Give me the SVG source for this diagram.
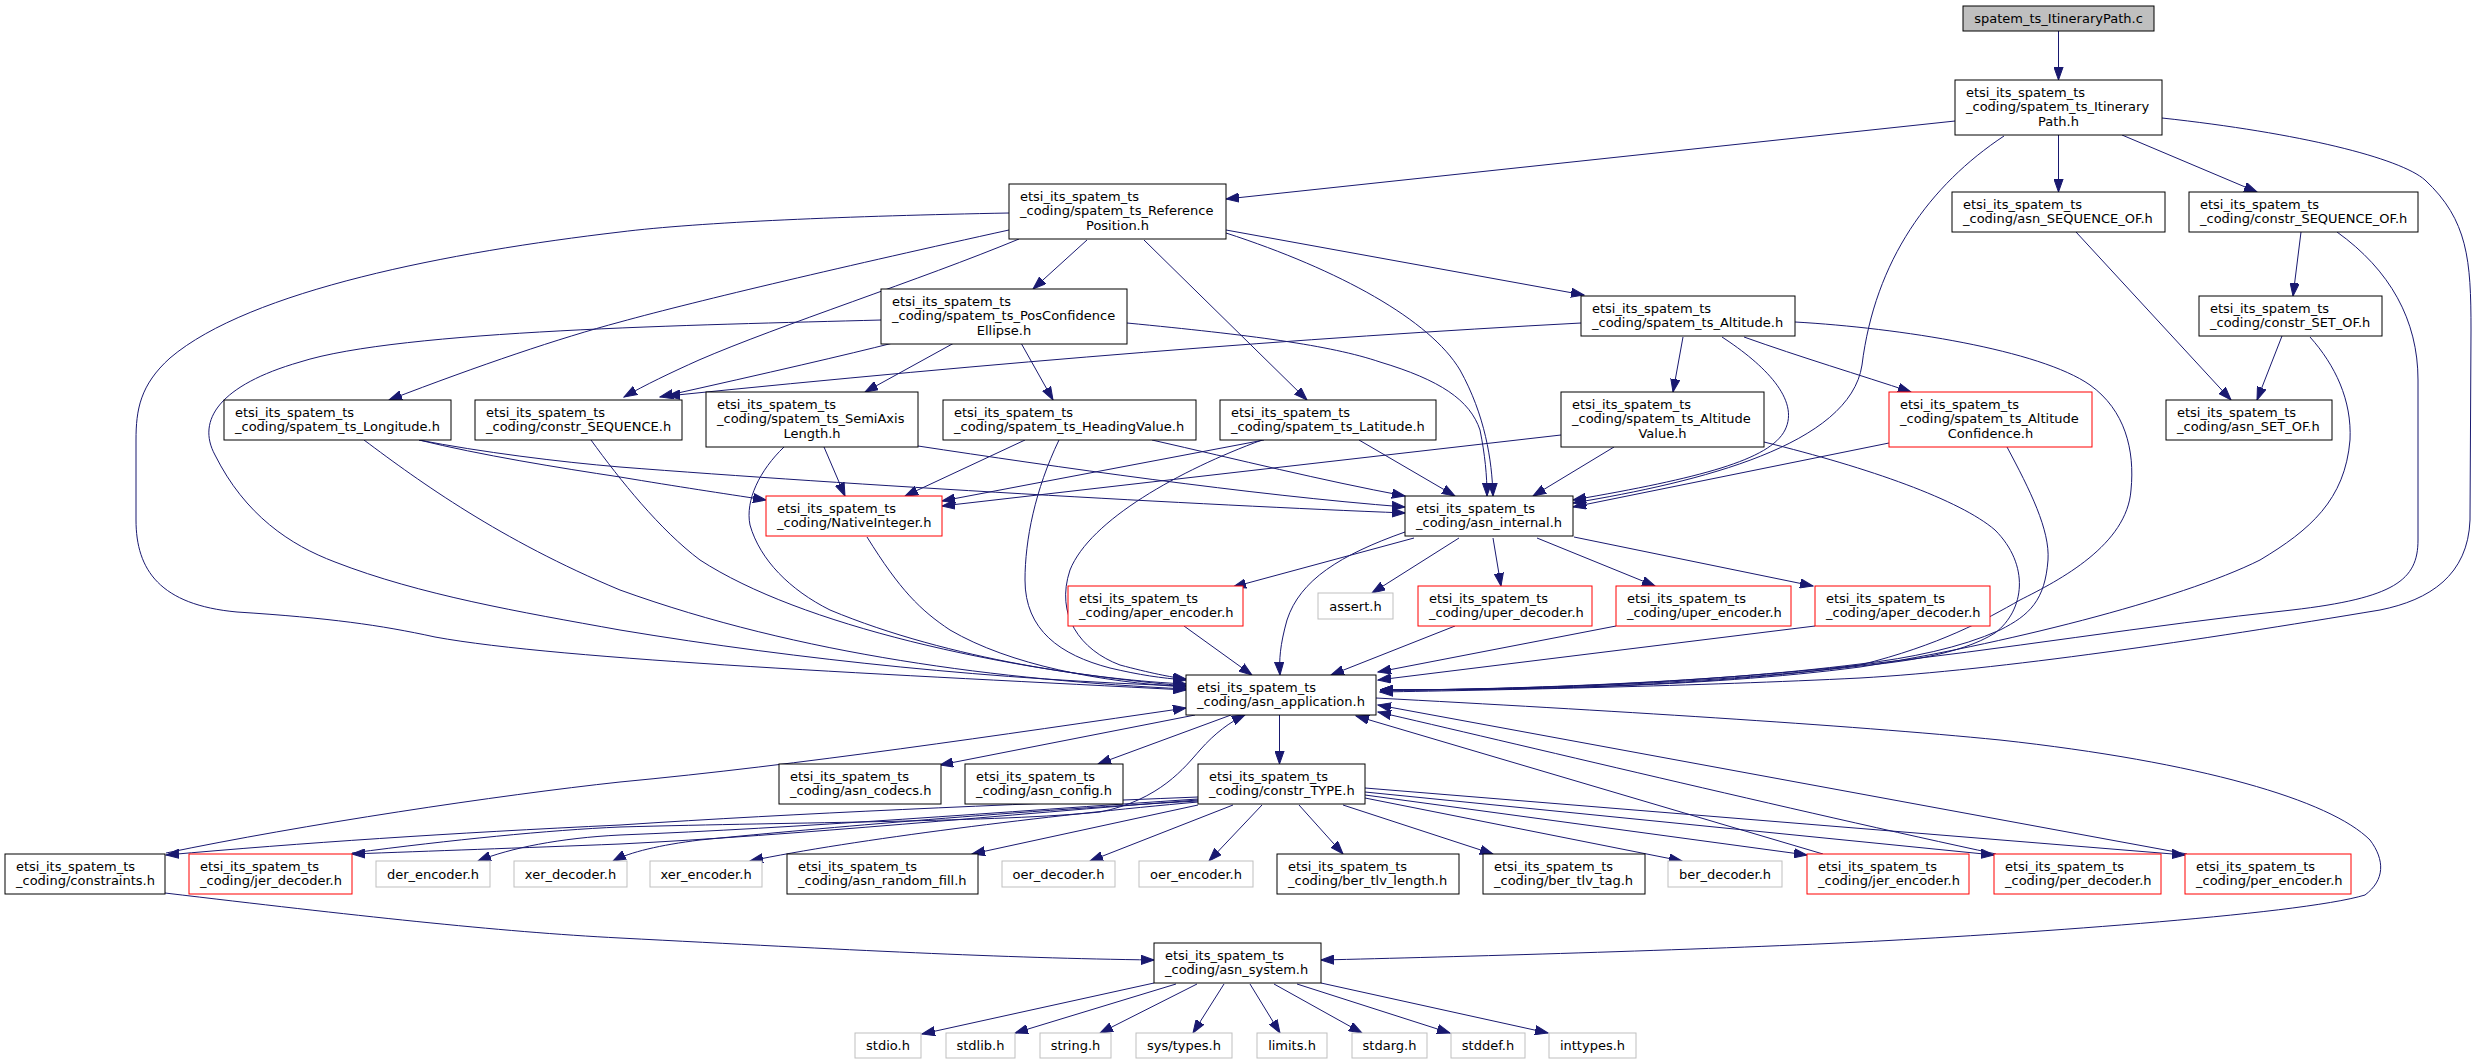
<svg xmlns="http://www.w3.org/2000/svg" width="2476" height="1064" viewBox="0 0 2476 1064">
<style>
rect{fill:#fff;stroke:#000;stroke-width:1}
.root rect{fill:#bfbfbf}
.red rect{stroke:#ff0000}
.gray rect{stroke:#bfbfbf}
text{font-family:"DejaVu Sans","Liberation Sans",sans-serif;font-size:13px;fill:#000}
.c{text-anchor:middle}
#edges path{fill:none;stroke:#191970;stroke-width:1;marker-end:url(#a)}
</style>
<defs>
<marker id="a" markerUnits="userSpaceOnUse" markerWidth="14" markerHeight="10" viewBox="0 0 14 10" refX="13" refY="5" orient="auto"><path d="M0,0.4 L13,5 L0,9.6 Z" fill="#191970" stroke="#191970" stroke-width="1"/></marker>
</defs>
<rect x="0" y="0" width="2476" height="1064" style="fill:#fff;stroke:none"/>
<g id="edges">
<path d="M2058.5,31 L2058.5,80"/>
<path d="M1955,121 L1226,199"/>
<path d="M2058.5,135 L2058.5,192"/>
<path d="M2122,135 L2257,192"/>
<path d="M2004,136 C1930,185 1875,260 1862,365 C1850,445 1700,482 1573,503"/>
<path d="M2162,118 C2300,133 2400,158 2425,180 C2468,220 2471,260 2471,330 L2470,520 C2468,575 2430,600 2380,610 C2200,640 2000,670 1860,678 C1700,686 1500,690 1380,692"/>
<path d="M1009,213 C850,216 700,222 620,232 C450,252 250,290 170,358 C140,385 136,410 136,440 L136,520 C136,570 160,605 237,612 C330,618 380,625 435,637 C560,660 900,675 1186,690"/>
<path d="M881,320 C700,325 400,330 300,362 C220,385 196,420 215,455 C245,515 290,545 335,562 C420,595 520,612 620,630 C800,660 1000,680 1186,686"/>
<path d="M1009,230 C850,265 700,300 620,322 C560,338 480,365 389,400"/>
<path d="M1019,239 C920,280 780,325 699,360 C670,373 645,385 624,397"/>
<path d="M893,343 Q826,360 660,397"/>
<path d="M1581,323 C1300,338 1000,362 667,396"/>
<path d="M1087,240 L1033,289"/>
<path d="M1144,240 L1307,400"/>
<path d="M1226,233 C1340,270 1430,320 1460,370 C1485,415 1492,460 1493,496"/>
<path d="M1226,230 L1584,295"/>
<path d="M954,343 L865,392"/>
<path d="M1021,343 L1053,400"/>
<path d="M1127,323 C1250,335 1330,345 1380,362 C1440,380 1470,400 1480,430 C1485,455 1487,475 1487,496"/>
<path d="M1683,337 L1673,392"/>
<path d="M1722,337 C1765,365 1800,400 1785,430 C1770,460 1700,478 1573,500"/>
<path d="M1744,337 C1800,357 1860,375 1911,392"/>
<path d="M1795,322 C1900,328 2040,350 2090,385 C2125,410 2135,450 2131,490 C2127,545 2060,580 2020,600 C1985,620 1940,645 1860,665 C1700,688 1500,690 1380,690"/>
<path d="M2076,232 L2231,400"/>
<path d="M2301,232 L2293,296"/>
<path d="M2337,232 C2390,270 2418,320 2418,380 L2418,540 C2418,580 2395,598 2292,610 C2150,625 2000,650 1860,665 C1700,683 1500,690 1380,690"/>
<path d="M2282,336 L2257,400"/>
<path d="M2310,337 C2335,365 2352,400 2350,440 C2345,500 2310,530 2260,560 C2180,600 2000,645 1860,667 C1700,688 1500,690 1380,690"/>
<path d="M419,440 C480,455 560,468 620,477 C680,487 720,493 766,500"/>
<path d="M419,440 C480,452 560,462 620,467 C850,485 1200,505 1405,513"/>
<path d="M364,440 C420,482 500,540 620,590 C800,655 1000,680 1186,689"/>
<path d="M591,440 C620,480 660,530 700,560 C800,625 1000,670 1186,686"/>
<path d="M824,447 L845,496"/>
<path d="M918,446 C1050,466 1250,495 1405,507"/>
<path d="M784,447 C760,470 745,500 750,525 C760,560 790,590 830,610 C950,660 1100,680 1186,684"/>
<path d="M1025,440 L905,496"/>
<path d="M1152,440 C1240,460 1320,480 1405,496"/>
<path d="M1059,440 C1035,490 1025,540 1025,580 C1025,630 1060,655 1110,668 C1140,675 1160,678 1186,680"/>
<path d="M1264,440 L942,501"/>
<path d="M1561,435 L942,506"/>
<path d="M1359,440 L1455,496"/>
<path d="M1262,440 C1180,470 1090,520 1070,570 C1055,615 1080,650 1120,665 C1150,673 1170,677 1186,679"/>
<path d="M1614,447 L1533,496"/>
<path d="M1764,442 C1870,468 1960,500 1995,530 C2030,565 2025,610 1995,633 C1960,655 1900,662 1860,666 C1700,685 1500,690 1380,690"/>
<path d="M1889,443 L1573,507"/>
<path d="M2007,447 C2030,490 2050,530 2048,560 C2045,600 2030,615 2000,630 C1960,648 1910,658 1860,664 C1700,684 1500,690 1380,690"/>
<path d="M867,537 C900,590 920,610 950,630 C1010,665 1100,682 1186,687"/>
<path d="M1405,532 C1340,555 1300,580 1287,620 C1280,645 1279,660 1280,675"/>
<path d="M1414,538 L1233,587"/>
<path d="M1459,538 L1372,593"/>
<path d="M1493,538 L1501,586"/>
<path d="M1537,538 L1655,586"/>
<path d="M1574,537 L1813,586"/>
<path d="M1184,626 L1252,675"/>
<path d="M1455,626 L1331,675"/>
<path d="M1616,626 L1378,672"/>
<path d="M1815,626 L1378,680"/>
<path d="M1376,698 C1600,710 1850,725 2000,740 C2200,762 2330,800 2370,840 C2385,860 2385,880 2365,895 C2300,915 2000,935 1860,942 C1700,950 1450,957 1321,960"/>
<path d="M1195,715 L940,765"/>
<path d="M1231,715 L1098,764"/>
<path d="M1279.5,715 L1279.5,764"/>
<path d="M166,853 C300,825 500,795 620,782 C800,765 1000,735 1186,708"/>
<path d="M165,893 C350,915 500,932 620,938 C850,950 1000,958 1154,960"/>
<path d="M1198,797 C1000,805 800,813 620,825 C450,833 300,843 166,855"/>
<path d="M352,853 C450,840 550,830 620,827 C800,822 1000,822 1100,812 C1160,800 1185,767 1200,750 C1215,733 1230,722 1245,715"/>
<path d="M1198,800 C1000,815 800,835 620,844 C520,848 430,851 352,854"/>
<path d="M1198,799 C1000,812 800,828 620,835 C560,838 510,848 478,861"/>
<path d="M1198,801 C1000,812 800,830 700,840 C660,845 630,852 613,861"/>
<path d="M1198,802 C1050,815 850,840 750,861"/>
<path d="M1198,805 L972,854"/>
<path d="M1233,805 L1090,861"/>
<path d="M1262,805 L1209,861"/>
<path d="M1299,805 L1343,854"/>
<path d="M1343,805 L1493,854"/>
<path d="M1365,798 L1682,861"/>
<path d="M1365,795 L1807,855"/>
<path d="M1365,792 L1994,855"/>
<path d="M1365,788 L2185,855"/>
<path d="M1823,854 L1356,716"/>
<path d="M1996,854 C1800,812 1500,740 1378,712"/>
<path d="M2187,854 L1378,705"/>
<path d="M1154,983 L922,1034"/>
<path d="M1176,984 L1015,1033"/>
<path d="M1197,984 L1100,1033"/>
<path d="M1224,984 L1193,1033"/>
<path d="M1250,984 L1280,1033"/>
<path d="M1274,984 L1362,1033"/>
<path d="M1297,984 L1450,1033"/>
<path d="M1321,983 L1548,1033"/>
</g>
<g id="n1" class="root"><rect x="1963" y="6" width="191" height="25"/><text class="c" x="2058.5" y="23">spatem_ts_ItineraryPath.c</text></g>
<g id="n2"><rect x="1955" y="80" width="207" height="55"/><text x="1966" y="96.5">etsi_its_spatem_ts</text><text x="1966" y="111.2">_coding/spatem_ts_Itinerary</text><text class="c" x="2058.5" y="125.9">Path.h</text></g>
<g id="n3"><rect x="1009" y="184" width="217" height="55"/><text x="1020" y="200.5">etsi_its_spatem_ts</text><text x="1020" y="215.2">_coding/spatem_ts_Reference</text><text class="c" x="1117.5" y="229.9">Position.h</text></g>
<g id="n4"><rect x="1952" y="192" width="213" height="40"/><text x="1963" y="208.5">etsi_its_spatem_ts</text><text x="1963" y="223.2">_coding/asn_SEQUENCE_OF.h</text></g>
<g id="n5"><rect x="2189" y="192" width="229" height="40"/><text x="2200" y="208.5">etsi_its_spatem_ts</text><text x="2200" y="223.2">_coding/constr_SEQUENCE_OF.h</text></g>
<g id="n6"><rect x="881" y="289" width="246" height="55"/><text x="892" y="305.5">etsi_its_spatem_ts</text><text x="892" y="320.2">_coding/spatem_ts_PosConfidence</text><text class="c" x="1004" y="334.9">Ellipse.h</text></g>
<g id="n7"><rect x="1581" y="296" width="214" height="40"/><text x="1592" y="312.5">etsi_its_spatem_ts</text><text x="1592" y="327.2">_coding/spatem_ts_Altitude.h</text></g>
<g id="n8"><rect x="2199" y="296" width="183" height="40"/><text x="2210" y="312.5">etsi_its_spatem_ts</text><text x="2210" y="327.2">_coding/constr_SET_OF.h</text></g>
<g id="n9"><rect x="224" y="400" width="227" height="40"/><text x="235" y="416.5">etsi_its_spatem_ts</text><text x="235" y="431.2">_coding/spatem_ts_Longitude.h</text></g>
<g id="n10"><rect x="475" y="400" width="207" height="40"/><text x="486" y="416.5">etsi_its_spatem_ts</text><text x="486" y="431.2">_coding/constr_SEQUENCE.h</text></g>
<g id="n11"><rect x="706" y="392" width="212" height="55"/><text x="717" y="408.5">etsi_its_spatem_ts</text><text x="717" y="423.2">_coding/spatem_ts_SemiAxis</text><text class="c" x="812" y="437.9">Length.h</text></g>
<g id="n12"><rect x="943" y="400" width="253" height="40"/><text x="954" y="416.5">etsi_its_spatem_ts</text><text x="954" y="431.2">_coding/spatem_ts_HeadingValue.h</text></g>
<g id="n13"><rect x="1220" y="400" width="216" height="40"/><text x="1231" y="416.5">etsi_its_spatem_ts</text><text x="1231" y="431.2">_coding/spatem_ts_Latitude.h</text></g>
<g id="n14"><rect x="1561" y="392" width="203" height="55"/><text x="1572" y="408.5">etsi_its_spatem_ts</text><text x="1572" y="423.2">_coding/spatem_ts_Altitude</text><text class="c" x="1662.5" y="437.9">Value.h</text></g>
<g id="n15" class="red"><rect x="1889" y="392" width="203" height="55"/><text x="1900" y="408.5">etsi_its_spatem_ts</text><text x="1900" y="423.2">_coding/spatem_ts_Altitude</text><text class="c" x="1990.5" y="437.9">Confidence.h</text></g>
<g id="n16"><rect x="2166" y="400" width="166" height="40"/><text x="2177" y="416.5">etsi_its_spatem_ts</text><text x="2177" y="431.2">_coding/asn_SET_OF.h</text></g>
<g id="n17" class="red"><rect x="766" y="496" width="176" height="40"/><text x="777" y="512.5">etsi_its_spatem_ts</text><text x="777" y="527.2">_coding/NativeInteger.h</text></g>
<g id="n18"><rect x="1405" y="496" width="168" height="40"/><text x="1416" y="512.5">etsi_its_spatem_ts</text><text x="1416" y="527.2">_coding/asn_internal.h</text></g>
<g id="n19" class="red"><rect x="1068" y="586" width="175" height="40"/><text x="1079" y="602.5">etsi_its_spatem_ts</text><text x="1079" y="617.2">_coding/aper_encoder.h</text></g>
<g id="n20" class="gray"><rect x="1318" y="593" width="75" height="26"/><text class="c" x="1355.5" y="610.5">assert.h</text></g>
<g id="n21" class="red"><rect x="1418" y="586" width="174" height="40"/><text x="1429" y="602.5">etsi_its_spatem_ts</text><text x="1429" y="617.2">_coding/uper_decoder.h</text></g>
<g id="n22" class="red"><rect x="1616" y="586" width="175" height="40"/><text x="1627" y="602.5">etsi_its_spatem_ts</text><text x="1627" y="617.2">_coding/uper_encoder.h</text></g>
<g id="n23" class="red"><rect x="1815" y="586" width="175" height="40"/><text x="1826" y="602.5">etsi_its_spatem_ts</text><text x="1826" y="617.2">_coding/aper_decoder.h</text></g>
<g id="n24"><rect x="1186" y="675" width="190" height="40"/><text x="1197" y="691.5">etsi_its_spatem_ts</text><text x="1197" y="706.2">_coding/asn_application.h</text></g>
<g id="n25"><rect x="779" y="764" width="162" height="40"/><text x="790" y="780.5">etsi_its_spatem_ts</text><text x="790" y="795.2">_coding/asn_codecs.h</text></g>
<g id="n26"><rect x="965" y="764" width="158" height="40"/><text x="976" y="780.5">etsi_its_spatem_ts</text><text x="976" y="795.2">_coding/asn_config.h</text></g>
<g id="n27"><rect x="1198" y="764" width="167" height="40"/><text x="1209" y="780.5">etsi_its_spatem_ts</text><text x="1209" y="795.2">_coding/constr_TYPE.h</text></g>
<g id="n28"><rect x="5" y="854" width="160" height="40"/><text x="16" y="870.5">etsi_its_spatem_ts</text><text x="16" y="885.2">_coding/constraints.h</text></g>
<g id="n29" class="red"><rect x="189" y="854" width="163" height="40"/><text x="200" y="870.5">etsi_its_spatem_ts</text><text x="200" y="885.2">_coding/jer_decoder.h</text></g>
<g id="n30" class="gray"><rect x="376" y="861" width="114" height="26"/><text class="c" x="433" y="878.5">der_encoder.h</text></g>
<g id="n31" class="gray"><rect x="514" y="861" width="113" height="26"/><text class="c" x="570.5" y="878.5">xer_decoder.h</text></g>
<g id="n32" class="gray"><rect x="650" y="861" width="112" height="26"/><text class="c" x="706" y="878.5">xer_encoder.h</text></g>
<g id="n33"><rect x="787" y="854" width="191" height="40"/><text x="798" y="870.5">etsi_its_spatem_ts</text><text x="798" y="885.2">_coding/asn_random_fill.h</text></g>
<g id="n34" class="gray"><rect x="1002" y="861" width="113" height="26"/><text class="c" x="1058.5" y="878.5">oer_decoder.h</text></g>
<g id="n35" class="gray"><rect x="1139" y="861" width="114" height="26"/><text class="c" x="1196" y="878.5">oer_encoder.h</text></g>
<g id="n36"><rect x="1277" y="854" width="182" height="40"/><text x="1288" y="870.5">etsi_its_spatem_ts</text><text x="1288" y="885.2">_coding/ber_tlv_length.h</text></g>
<g id="n37"><rect x="1483" y="854" width="162" height="40"/><text x="1494" y="870.5">etsi_its_spatem_ts</text><text x="1494" y="885.2">_coding/ber_tlv_tag.h</text></g>
<g id="n38" class="gray"><rect x="1668" y="861" width="114" height="26"/><text class="c" x="1725" y="878.5">ber_decoder.h</text></g>
<g id="n39" class="red"><rect x="1807" y="854" width="162" height="40"/><text x="1818" y="870.5">etsi_its_spatem_ts</text><text x="1818" y="885.2">_coding/jer_encoder.h</text></g>
<g id="n40" class="red"><rect x="1994" y="854" width="167" height="40"/><text x="2005" y="870.5">etsi_its_spatem_ts</text><text x="2005" y="885.2">_coding/per_decoder.h</text></g>
<g id="n41" class="red"><rect x="2185" y="854" width="166" height="40"/><text x="2196" y="870.5">etsi_its_spatem_ts</text><text x="2196" y="885.2">_coding/per_encoder.h</text></g>
<g id="n42"><rect x="1154" y="943" width="167" height="40"/><text x="1165" y="959.5">etsi_its_spatem_ts</text><text x="1165" y="974.2">_coding/asn_system.h</text></g>
<g id="n43" class="gray"><rect x="855" y="1033" width="66" height="25"/><text class="c" x="888" y="1050">stdio.h</text></g>
<g id="n44" class="gray"><rect x="946" y="1033" width="69" height="25"/><text class="c" x="980.5" y="1050">stdlib.h</text></g>
<g id="n45" class="gray"><rect x="1040" y="1033" width="71" height="25"/><text class="c" x="1075.5" y="1050">string.h</text></g>
<g id="n46" class="gray"><rect x="1136" y="1033" width="96" height="25"/><text class="c" x="1184" y="1050">sys/types.h</text></g>
<g id="n47" class="gray"><rect x="1257" y="1033" width="70" height="25"/><text class="c" x="1292" y="1050">limits.h</text></g>
<g id="n48" class="gray"><rect x="1352" y="1033" width="75" height="25"/><text class="c" x="1389.5" y="1050">stdarg.h</text></g>
<g id="n49" class="gray"><rect x="1451" y="1033" width="74" height="25"/><text class="c" x="1488" y="1050">stddef.h</text></g>
<g id="n50" class="gray"><rect x="1549" y="1033" width="87" height="25"/><text class="c" x="1592.5" y="1050">inttypes.h</text></g>
</svg>
